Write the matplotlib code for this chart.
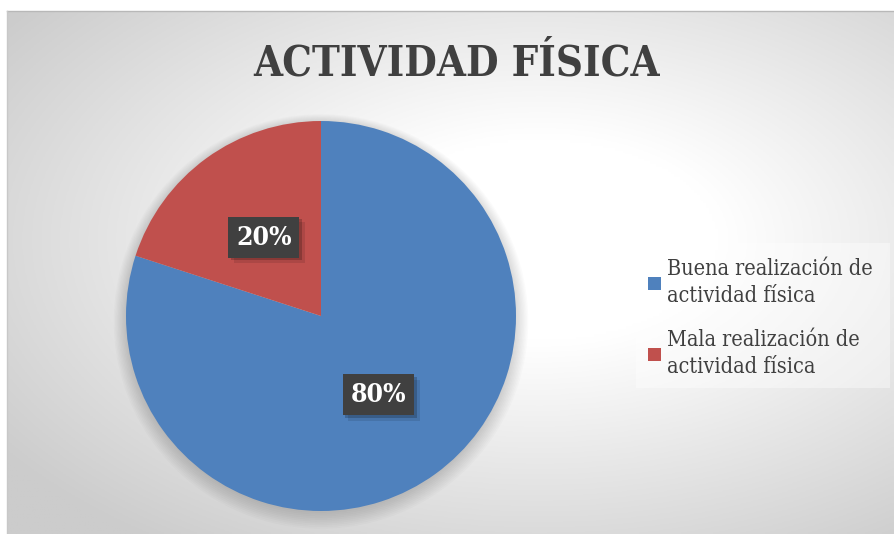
import numpy as np
import matplotlib
matplotlib.use("Agg")
import matplotlib.pyplot as plt
from matplotlib.patches import Rectangle, Circle
import matplotlib.patheffects as pe

title = "ACTIVIDAD FÍSICA"
labels = ["Buena realización de\nactividad física", "Mala realización de\nactividad física"]
values = [80, 20]
colors = ["#4F81BD", "#C0504D"]

W, H = 894, 534
fig = plt.figure(figsize=(W / 100, H / 100), dpi=100)
fig.patch.set_facecolor("white")

# background: radial gray gradient inside the chart frame
bg = fig.add_axes([0, 0, 1, 1])
bg.set_xlim(0, W)
bg.set_ylim(H, 0)
bg.axis("off")
x0, y0, x1, y1 = 7, 11, 894, 534
xx, yy = np.meshgrid(np.linspace(x0, x1, 300), np.linspace(y0, y1, 200))
cx, cy = 540, 240
d = np.hypot((xx - cx) / 600, (yy - cy) / 340)
t = np.clip((d - 0.3) / 0.8, 0, 1)
shade = 1.0 - 0.2 * t
img = np.dstack([shade, shade, shade])
bg.imshow(img, extent=(x0, x1, y1, y0), aspect="auto", zorder=0)
bg.plot([x0, x1], [y0, y0], color="#b8b8b8", lw=1, zorder=1)
bg.plot([x0, x0], [y0, y1], color="#c8c8c8", lw=1, zorder=1)

# legend box
bg.add_patch(Rectangle((636, 243), 254, 145, facecolor="white", alpha=0.4,
                       edgecolor="none", zorder=1))

# pie
pcx, pcy, r = 321, 316, 195
ax = fig.add_axes([(pcx - r) / W, (H - pcy - r) / H, 2 * r / W, 2 * r / H])
ax.set_xlim(-1, 1)
ax.set_ylim(-1, 1)
ax.set_aspect("equal")
ax.axis("off")
for k in range(10):
    ax.add_patch(Circle((0, -0.01 - 0.002 * k), 1.0 + 0.007 * k,
                        facecolor="black", alpha=0.016, edgecolor="none",
                        zorder=0, clip_on=False))
wedges, _, autotexts = ax.pie(values, colors=colors, startangle=90,
                              counterclock=False, radius=1,
                              autopct="%d%%", pctdistance=0.5,
                              wedgeprops=dict(edgecolor="none"),
                              textprops=dict(color="white", fontsize=19,
                                             fontweight="bold",
                                             family="DejaVu Serif",
                                             fontstretch="condensed"))
ax.set_xlim(-1, 1)
ax.set_ylim(-1, 1)
for t in autotexts:
    t.set_bbox(dict(boxstyle="square,pad=0.3", facecolor="#404040",
                    edgecolor="none", linewidth=0))
    t.get_bbox_patch().set_path_effects([
        pe.SimplePatchShadow(offset=(2, -2), shadow_rgbFace="black", alpha=0.2),
        pe.SimplePatchShadow(offset=(4, -4), shadow_rgbFace="black", alpha=0.1),
        pe.Normal()])

# title
fig.text(457 / W, 1 - 63 / H, title, ha="center", va="center",
         fontsize=30, fontweight="bold", family="DejaVu Serif",
         fontstretch="condensed", color="#404040")

# legend
leg = fig.legend(wedges, labels, loc="center left",
                 bbox_to_anchor=(629 / W, 1 - 318 / H),
                 frameon=False, handlelength=0.6, handleheight=0.6,
                 handletextpad=0.25, labelspacing=1.05,
                 prop=dict(family="DejaVu Serif", size=15.5, stretch="condensed"))
for t in leg.get_texts():
    t.set_color("#404040")
    t.set_linespacing(1.25)

fig.savefig("out.png", dpi=100)
